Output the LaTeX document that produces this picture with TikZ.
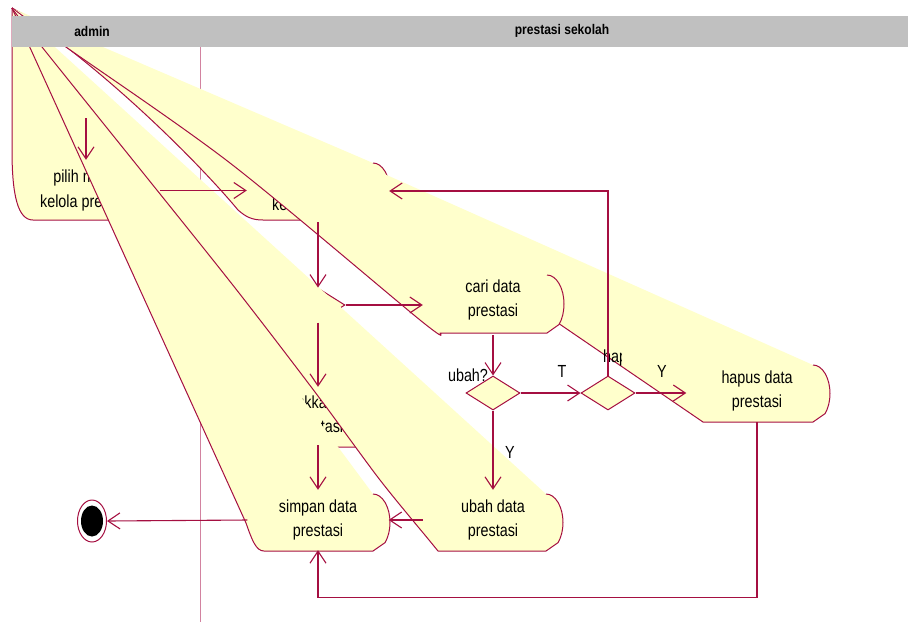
\documentclass[tikz,border=0pt]{standalone}
\usepackage{fontspec}
\setmainfont{Liberation Sans}
\newfontfamily\actfont[FakeStretch=0.82]{Liberation Sans}
\newfontfamily\hdfont[FakeStretch=0.86]{Liberation Sans}
\usetikzlibrary{arrows.meta,shapes.geometric}
\definecolor{rline}{RGB}{165,15,65}
\definecolor{fanyel}{RGB}{255,255,204}
\definecolor{hdgray}{RGB}{192,192,192}
\definecolor{lanecol}{RGB}{210,130,160}
\tikzset{
  fanfill/.style={fill=fanyel},
  fanline/.style={draw=rline,line width=1pt,line join=round},
  conn/.style={draw=rline,line width=1.1pt,-{Straight Barb[length=12pt,width=16pt,line width=1.1pt]}},
  act/.style={align=center,inner sep=0pt,minimum width=141pt,minimum height=60pt,
    font=\actfont\fontsize{17.5}{24.5}\selectfont},
  dec/.style={diamond,draw=rline,fill=fanyel,line width=1pt,minimum width=54pt,
    minimum height=34pt,inner sep=0pt,aspect=1.6},
  lbl/.style={inner sep=0pt,font=\actfont\fontsize{17.5}{24.5}\selectfont},
  hdtext/.style={inner sep=0pt,font=\hdfont\bfseries\fontsize{14}{16}\selectfont},
  lanestyle/.style={draw=lanecol,line width=1pt}
}
% #1 lower edge path (from apex to bottom-left), #2 x of top-right, #3 top y, #4 bottom y
\newcommand\actfan[4]{%
  \pgfmathsetmacro\fcy{(#3+#4)/2}%
  \pgfmathsetmacro\fry{(#4-#3)/2}%
  \pgfmathsetmacro\fey{\fcy+\fry*0.7071}%
  \fill[fanfill] #1 -- (#2,#4) -- ({#2+12.02},\fey)
     arc[start angle=45,end angle=-90,x radius=17,y radius=\fry] -- cycle;
  \draw[fanline] #1 -- (#2,#4) -- ({#2+12.02},\fey)
     arc[start angle=45,end angle=-90,x radius=17,y radius=\fry];
}
\begin{document}
\begin{tikzpicture}[x=1pt,y=-1pt]
\useasboundingbox (0,0) rectangle (912,622);
\coordinate (A) at (12,8);
\draw[lanestyle] (200,47) -- (200,622);

% act1
\actfan{(12,8) -- (12,150) .. controls (12,196) and (18,220) .. (33,220)}{142}{162}{220}
\node[act,minimum width=148pt,minimum height=61pt] (act1) at (86,190.5) {pilih menu\\kelola prestasi};

% act2
\actfan{(12,8) .. controls (110,72) and (205,170) .. (238,210) .. controls (246,217) and (252,220) .. (263,220)}{373}{163}{220}
\node[act,minimum width=142pt,minimum height=62pt] (act2) at (318,191) {\strut\\kelola prestasi};

% act3
\actfan{(12,8) -- (255,437) .. controls (259,445) and (262,447) .. (268,447)}{373}{388}{447}
\node[act,minimum height=58pt] (act3) at (318,416) {masukkan data\\prestasi};

% first decision
\node[dec] (d1) at (318,305) {};

% hapus
\actfan{(12,8) -- (558,323) -- (703,422)}{813}{365}{422}
\node[act,minimum height=62pt] (hapus) at (757,391) {hapus data\\prestasi};

% hapus? label (only its start shows)
\begin{scope}
\clip (598,340) rectangle (621,372);
\node[lbl,anchor=west] (lblH) at (603,358) {hapus?};
\end{scope}

% cari
\actfan{plot[smooth,tension=0.5] coordinates {(12,8) (66,47) (230,163) (420,320) (440,333)}}{547}{275}{333}
\node[act,minimum width=140pt,minimum height=70pt] (cari) at (493,300) {cari data\\prestasi};

% simpan
\actfan{(12,8) -- (246,523) .. controls (252,540) and (256,551) .. (264,551)}{373}{494}{551}
\node[act] (simpan) at (318,520) {simpan data\\prestasi};

% ubah
\actfan{plot[smooth,tension=0.5] coordinates {(12,8) (42,47) (205,250) (260,320) (321,400) (380,480) (429,540) (438,551)}}{546}{494}{551}
\node[act,minimum width=140pt] (ubah) at (493,520) {ubah data\\prestasi};

% decisions
\node[dec] (ubahQ) at (493,393) {};
\node[dec] (hapusQ) at (608,393) {};
\node[lbl] (lblU) at (468,375) {ubah?};
\node[lbl] (lblT) at (562,371) {T};
\node[lbl] (lblY1) at (662,371) {Y};
\node[lbl] (lblY2) at (510,452) {Y};

% end state
\node[ellipse,draw=rline,fill=white,line width=1pt,minimum width=29pt,minimum height=42pt,inner sep=0pt] (end) at (92,521) {};
\node[ellipse,fill=black,minimum width=22pt,minimum height=31pt,inner sep=0pt] (endin) at (end.center) {};

% connectors
\coordinate (init) at (86,118);
\draw[conn] (init) -- (act1.north);
\draw[conn] (act1.east) -- (act1.east -| act2.west);
\draw[conn] (d1.north |- act2.south) -- (d1.north);
\draw[conn] (d1.east) -- (d1.east -| cari.west);
\draw[conn] (d1.south) -- (d1.south |- act3.north);
\draw[conn] (act3.south) -- (act3.south |- simpan.north);
\draw[conn] (cari.south) -- (ubahQ.north);
\draw[conn] (ubahQ.east) -- (hapusQ.west);
\draw[conn] (ubahQ.south) -- (ubah.north);
\draw[conn] (hapusQ.east) -- (hapusQ.east -| hapus.west);
\draw[conn] (hapusQ.north) |- (act2.east);
\draw[conn] (hapus.south) -- ++(0,175) -| (simpan.south);
\draw[conn] (ubah.west) -- (ubah.west -| simpan.east);
\draw[conn] (simpan.west) -- (end.east);

% header
\fill[hdgray] (12,16) rectangle (908,47);
\node[hdtext] (lane1) at (92,31) {admin};
\node[hdtext] (lane2) at (562,31) {prestasi sekolah};
\end{tikzpicture}
\end{document}
